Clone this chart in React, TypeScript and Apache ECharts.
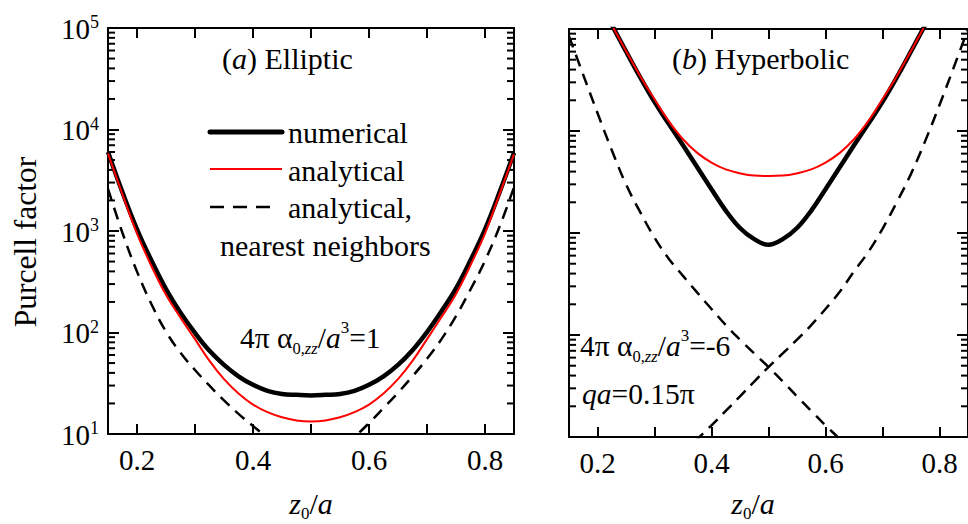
import React, { useEffect, useRef } from 'react';
import * as echarts from 'echarts';

// ---------- data ----------
const zOverA = [0.15, 0.175, 0.2, 0.225, 0.25, 0.275, 0.3, 0.325, 0.35, 0.375, 0.4, 0.425, 0.45, 0.475, 0.5,
  0.525, 0.55, 0.575, 0.6, 0.625, 0.65, 0.675, 0.7, 0.725, 0.75, 0.775, 0.8, 0.825, 0.85];

// (a) Elliptic, 4π α/a^3 = 1
const ellipticNumerical = [6000, 2400, 1040, 510, 268, 157, 99, 66, 48, 37, 30.5, 26.6, 24.8, 24.3, 24,
  24.3, 24.8, 26.6, 30.5, 37, 48, 67, 101, 162, 272, 515, 1040, 2400, 5900];
const ellipticAnalytical = [5800, 2290, 944, 450, 235, 140, 86, 52.5, 34.7, 25.1, 19.5, 16.4, 14.6, 13.6, 13.3,
  13.6, 14.6, 16.4, 19.5, 25.1, 34.7, 52.5, 86, 142, 240, 460, 950, 2300, 5700];
const ellipticNearest = [2600, 955, 398, 190, 102, 63, 42.7, 29.9, 21.4, 15.8, 12, 9.3, 7.9, 7.2, 7.1,
  7.2, 7.9, 9.5, 12.8, 18, 25.5, 37, 55, 86, 145, 265, 510, 1100, 2700];

// (b) Hyperbolic, 4π α/a^3 = -6, qa = 0.15π
const hyperNumerical = [6.6e5, 3.6e5, 2e5, 1.1e5, 6.03e4, 3.35e4, 1.93e4, 1.175e4, 7240, 4420, 2690, 1660, 1120, 870, 765,
  870, 1120, 1660, 2690, 4420, 7240, 1.175e4, 1.93e4, 3.35e4, 6.03e4, 1.1e5, 2e5, 3.6e5, 6.6e5];
const hyperAnalytical = [6.6e5, 3.6e5, 2e5, 1.1e5, 6.1e4, 3.45e4, 2.05e4, 1.25e4, 8300, 6100, 4900, 4200, 3850, 3655, 3620,
  3655, 3850, 4200, 4900, 6100, 8300, 1.25e4, 2.05e4, 3.45e4, 6.1e4, 1.1e5, 2e5, 3.6e5, 6.6e5];
const hyperNearestDown = [85000, 35500, 15000, 6500, 3000, 1600, 900, 560, 380, 260, 180, 125, 90, 66, 48.5,
  35, 25, 18, 13, 9.5, 6.5, 4.5, null, null, null, null, null, null, null];
const hyperNearestUp = [null, null, null, null, null, null, null, 4.5, 6.5, 9.5, 13, 18, 25, 35, 48.5,
  66, 90, 125, 180, 265, 420, 650, 1100, 2000, 3800, 8000, 18000, 42000, 100000];

// axis ticks
const xMin = 0.15;
const xMax = 0.85;
const yDecades = [10, 100, 1000, 10000, 100000];
const yMinorMultipliers = [2, 3, 4, 5, 6, 7, 8, 9];

const FONT = '"Liberation Serif", "Times New Roman", serif';
const RED = '#ff0000';

function pairs(xs: number[], ys: (number | null)[]) {
  const out: number[][] = [];
  xs.forEach((x, i) => {
    const v = ys[i];
    if (v != null) out.push([x, v]);
  });
  return out;
}

const minorTickValues: number[] = [];
yDecades.slice(0, -1).forEach((d) => yMinorMultipliers.forEach((m) => minorTickValues.push(d * m)));

const xLabelFormatter = (v: number) => {
  const t = Math.round(v * 10);
  if (Math.abs(v * 10 - t) > 1e-6 || t % 2 !== 0) return '';
  return v.toFixed(1);
};

function xAxisDef(gridIndex: number, position: string, showLabels: boolean) {
  return {
    type: 'value',
    gridIndex,
    position,
    min: xMin,
    max: xMax,
    splitNumber: 7,
    axisLine: { show: true, onZero: false, lineStyle: { color: '#000', width: 2 } },
    axisTick: { show: true, inside: true, length: 10, lineStyle: { color: '#000', width: 2 } },
    splitLine: { show: false },
    axisLabel: {
      show: showLabels,
      formatter: xLabelFormatter,
      fontSize: 29,
      fontFamily: FONT,
      color: '#000',
      margin: 11,
      showMinLabel: false,
      showMaxLabel: false,
    },
  };
}

function yAxisDef(gridIndex: number, position: string, showLabels: boolean) {
  return {
    type: 'log',
    logBase: 10,
    gridIndex,
    position,
    min: 10,
    max: 100000,
    axisLine: { show: true, onZero: false, lineStyle: { color: '#000', width: 2 } },
    axisTick: { show: true, inside: true, length: 11, lineStyle: { color: '#000', width: 2 } },
    splitLine: { show: false },
    minorTick: { show: false },
    axisLabel: {
      show: showLabels,
      margin: 9,
      formatter: (v: number) => `{b|10}{s|${Math.round(Math.log10(v))}}`,
      rich: {
        b: { fontSize: 29, lineHeight: 30, fontFamily: FONT, color: '#000', verticalAlign: 'bottom' },
        s: { fontSize: 18, lineHeight: 10, fontFamily: FONT, color: '#000', verticalAlign: 'top' },
      },
    },
  };
}

const minorTickRender = (params: any, api: any) => {
  const cs = params.coordSys;
  const y = api.coord([api.value(0), api.value(1)])[1];
  const style = { stroke: '#000', lineWidth: 2 };
  return {
    type: 'group',
    children: [
      { type: 'line', shape: { x1: cs.x, y1: y, x2: cs.x + 7, y2: y }, style },
      { type: 'line', shape: { x1: cs.x + cs.width - 7, y1: y, x2: cs.x + cs.width, y2: y }, style },
    ],
  };
};

const annRich = {
  n: { fontSize: 29.5, lineHeight: 38, fontFamily: FONT, color: '#000' },
  i: { fontSize: 29.5, lineHeight: 38, fontFamily: FONT, color: '#000', fontStyle: 'italic' },
  sub: { fontSize: 16.5, lineHeight: 4, fontFamily: FONT, color: '#000', verticalAlign: 'bottom' },
  subi: { fontSize: 16.5, lineHeight: 4, fontFamily: FONT, color: '#000', verticalAlign: 'bottom', fontStyle: 'italic' },
  sup: { fontSize: 17, lineHeight: 24, fontFamily: FONT, color: '#000', verticalAlign: 'top' },
};

const bigRich = {
  n: { fontSize: 30, lineHeight: 38, fontFamily: FONT, color: '#000' },
  i: { fontSize: 30, lineHeight: 38, fontFamily: FONT, color: '#000', fontStyle: 'italic' },
  sub: { fontSize: 17, lineHeight: 15, fontFamily: FONT, color: '#000', verticalAlign: 'bottom' },
};

function richText(x: number, y: number, text: string, rich: any, align = 'left') {
  return {
    type: 'text',
    x,
    y,
    silent: true,
    style: { text, rich, align, verticalAlign: 'middle', fontFamily: FONT, fontSize: 30, fill: '#000' },
  };
}

function plainText(x: number, y: number, text: string, size = 30) {
  return {
    type: 'text',
    x,
    y,
    silent: true,
    style: { text, align: 'left', verticalAlign: 'middle', fontFamily: FONT, fontSize: size, fill: '#000' },
  };
}

export default function App() {
  const ref = useRef<HTMLDivElement>(null);

  useEffect(() => {
    if (!ref.current) return;
    const chart = echarts.init(ref.current, undefined, { renderer: 'svg' });

    const lineSeries = (name: string, ys: (number | null)[], axis: number, style: any) => ({
      type: 'line',
      name,
      xAxisIndex: axis,
      yAxisIndex: axis,
      data: pairs(zOverA, ys),
      showSymbol: false,
      symbol: 'none',
      smooth: 0.4,
      clip: true,
      silent: true,
      lineStyle: style,
      z: style.width > 3 ? 3 : 4,
    });

    const thick = { color: '#000', width: 4.5 };
    const red = { color: RED, width: 2 };
    const dashed = { color: '#000', width: 2.5, type: [12, 8] };

    const option: any = {
      animation: false,
      backgroundColor: '#fff',
      grid: [
        { left: 108, top: 28, width: 406, height: 406, containLabel: false },
        { left: 569, top: 29, width: 406, height: 408, containLabel: false },
      ],
      xAxis: [
        xAxisDef(0, 'bottom', true),
        xAxisDef(0, 'top', false),
        xAxisDef(1, 'bottom', true),
        xAxisDef(1, 'top', false),
      ],
      yAxis: [
        yAxisDef(0, 'left', true),
        yAxisDef(0, 'right', false),
        yAxisDef(1, 'left', false),
        yAxisDef(1, 'right', false),
      ],
      series: [
        lineSeries('analytical, nearest neighbors', ellipticNearest, 0, dashed),
        lineSeries('numerical', ellipticNumerical, 0, thick),
        lineSeries('analytical', ellipticAnalytical, 0, red),
        lineSeries('analytical, nearest neighbors (b) down', hyperNearestDown, 2, dashed),
        lineSeries('analytical, nearest neighbors (b) up', hyperNearestUp, 2, dashed),
        lineSeries('numerical (b)', hyperNumerical, 2, thick),
        lineSeries('analytical (b)', hyperAnalytical, 2, red),
        {
          type: 'custom',
          xAxisIndex: 0,
          yAxisIndex: 0,
          silent: true,
          clip: false,
          renderItem: minorTickRender,
          data: minorTickValues.map((v) => [0.5, v]),
        },
        {
          type: 'custom',
          xAxisIndex: 2,
          yAxisIndex: 2,
          silent: true,
          clip: false,
          renderItem: minorTickRender,
          data: minorTickValues.map((v) => [0.5, v]),
        },
      ],
      graphic: [
        // y-axis name
        {
          type: 'text',
          x: 25,
          y: 242,
          rotation: Math.PI / 2,
          silent: true,
          style: { text: 'Purcell factor', align: 'center', verticalAlign: 'middle', fontFamily: FONT, fontSize: 31.5, fill: '#000' },
        },
        // x-axis names
        richText(311, 503, '{i|z}{sub|0}{n|/}{i|a}', bigRich, 'center'),
        richText(753, 503, '{i|z}{sub|0}{n|/}{i|a}', bigRich, 'center'),
        // panel titles
        richText(222, 58, '{n|(}{i|a}{n|) Elliptic}', bigRich),
        richText(672, 58, '{n|(}{i|b}{n|) Hyperbolic}', bigRich),
        // legend samples
        { type: 'line', silent: true, shape: { x1: 210, y1: 132, x2: 282, y2: 132 }, style: { stroke: '#000', lineWidth: 5, lineCap: 'round' } },
        { type: 'line', silent: true, shape: { x1: 210, y1: 169, x2: 282, y2: 169 }, style: { stroke: RED, lineWidth: 2 } },
        { type: 'line', silent: true, shape: { x1: 210, y1: 207, x2: 272, y2: 207 }, style: { stroke: '#000', lineWidth: 2.5, lineDash: [14, 9] } },
        plainText(288, 132, 'numerical'),
        plainText(288, 170, 'analytical'),
        plainText(288, 207, 'analytical,'),
        plainText(220, 245, 'nearest neighbors'),
        // parameter annotations
        richText(240, 337.5, '{n|4π α}{sub|0,}{subi|zz}{n|/}{i|a}{sup|3}{n|=1}', annRich),
        richText(580, 345.5, '{n|4π α}{sub|0,}{subi|zz}{n|/}{i|a}{sup|3}{n|=-6}', annRich),
        richText(582, 393.5, '{i|qa}{n|=0.15π}', annRich),
      ],
    };

    chart.setOption(option);
    return () => chart.dispose();
  }, []);

  return (
    <div
      ref={ref}
      style={{ position: 'absolute', left: 0, top: 0, width: 968, height: 524, background: '#fff' }}
    />
  );
}
